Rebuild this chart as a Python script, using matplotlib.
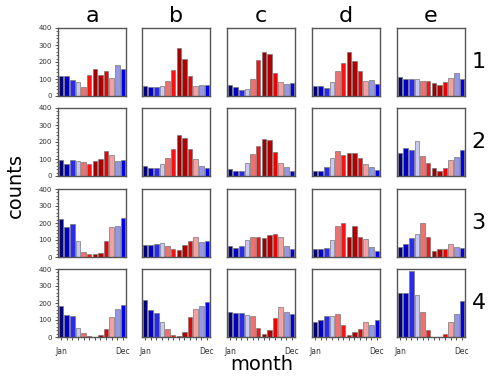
import numpy as np
import matplotlib
matplotlib.use("Agg")
import matplotlib.pyplot as plt
from matplotlib.ticker import MultipleLocator

months = ["Jan", "Feb", "Mar", "Apr", "May", "Jun",
          "Jul", "Aug", "Sep", "Oct", "Nov", "Dec"]
month_colors = ["#00007a", "#0000c8", "#2a2aee", "#c8c8f2", "#f07070", "#ff0f0f",
                "#a00000", "#b20000", "#f00000", "#f5a0a0", "#9696e6", "#0000f0"]
col_labels = ["a", "b", "c", "d", "e"]
row_labels = ["1", "2", "3", "4"]

# counts per month, rows 1-4, columns a-e
row1 = [
    [118, 120, 95, 81, 53, 126, 160, 126, 148, 106, 181, 160],
    [59, 55, 55, 61, 87, 154, 280, 215, 120, 59, 67, 63],
    [67, 51, 33, 39, 98, 211, 258, 246, 134, 83, 71, 75],
    [59, 57, 49, 85, 148, 197, 256, 205, 146, 89, 97, 69],
    [112, 102, 102, 100, 89, 89, 77, 67, 85, 108, 136, 102],
]
row2 = [
    [96, 70, 92, 90, 80, 70, 88, 98, 150, 121, 90, 96],
    [60, 47, 47, 72, 103, 160, 242, 222, 158, 101, 57, 47],
    [43, 29, 29, 74, 131, 176, 219, 211, 140, 74, 51, 27],
    [29, 29, 51, 107, 148, 123, 135, 135, 105, 70, 55, 37],
    [137, 166, 152, 205, 117, 78, 47, 29, 45, 96, 113, 152],
]
row3 = [
    [222, 175, 194, 93, 29, 16, 15, 22, 94, 175, 182, 228],
    [69, 69, 76, 84, 65, 45, 41, 69, 92, 119, 90, 92],
    [67, 55, 66, 100, 120, 120, 114, 131, 135, 116, 63, 47],
    [45, 45, 53, 100, 182, 198, 119, 184, 119, 104, 59, 35],
    [59, 76, 110, 133, 202, 119, 35, 45, 45, 78, 61, 55],
]
row4 = [
    [184, 131, 124, 51, 24, 8, 2, 10, 45, 118, 167, 188],
    [218, 157, 141, 86, 47, 12, 6, 31, 116, 165, 180, 206],
    [147, 143, 143, 129, 124, 53, 20, 39, 110, 176, 147, 133],
    [90, 100, 125, 125, 133, 73, 12, 27, 49, 90, 69, 102],
    [259, 259, 390, 247, 149, 43, 0, 0, 20, 88, 135, 210],
]
rows = [row1, row2, row3, row4]

W, H = 500, 379
fig = plt.figure(figsize=(W / 100, H / 100), dpi=100)
lefts = [58, 142, 227, 312, 397]
tops = [28, 108, 189, 269]
pw, ph = 68, 68
x = np.arange(1, 13)

for r, row in enumerate(rows):
    for c, vals in enumerate(row):
        ax = fig.add_axes([lefts[c] / W, 1 - (tops[r] + ph) / H, pw / W, ph / H])
        ax.bar(x, vals, width=0.82, color=month_colors,
               edgecolor="#777777", linewidth=0.5)
        ax.set_xlim(0.45, 12.55)
        ax.set_ylim(0, 400)
        for s in ax.spines.values():
            s.set_color("#555555")
            s.set_linewidth(1.0)
        if c == 0:
            ax.set_yticks([0, 100, 200, 300, 400])
            ax.yaxis.set_minor_locator(MultipleLocator(20))
            ax.tick_params(axis="y", labelsize=5, length=2.5, width=0.6,
                           pad=2, colors="#333333")
            ax.tick_params(axis="y", which="minor", length=1.2, width=0.4)
        else:
            ax.set_yticks([])
        if r == 3:
            ax.set_xticks(x)
            ax.set_xticklabels(["Jan"] + [""] * 10 + ["Dec"])
            ax.tick_params(axis="x", labelsize=5.5, length=2.5, width=0.6,
                           pad=5, colors="#333333")
        else:
            ax.set_xticks([])
        if r == 0:
            ax.set_title(col_labels[c], fontsize=16, pad=4)
        if c == 4:
            ax.text(1.2, 0.5, row_labels[r], transform=ax.transAxes,
                    fontsize=16, ha="center", va="center")

fig.text(15 / W, 1 - 185 / H, "counts", rotation=90, fontsize=14,
         ha="center", va="center")
fig.text(262 / W, 1 - 365 / H, "month", fontsize=14, ha="center", va="center")

fig.savefig("out.png", dpi=100)
